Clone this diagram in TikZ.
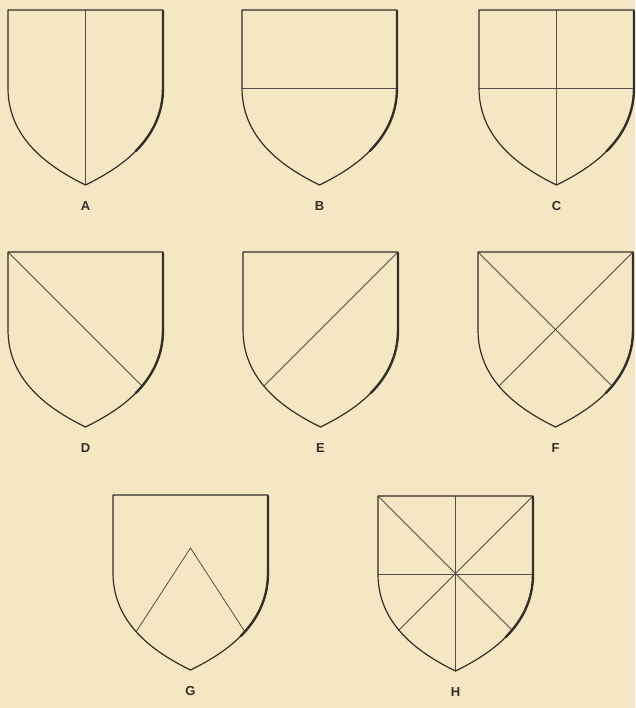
\documentclass[tikz,border=0pt]{standalone}
\usepackage{fontspec}
\setmainfont{Liberation Sans}
\usetikzlibrary{positioning}
\definecolor{paper}{RGB}{245,231,195}
\definecolor{ink}{RGB}{52,47,40}
\tikzset{
  shield edge/.style={insert path={(0,0) -- (155,0) -- (155,78) .. controls (155,132) and (108,160) .. (77.5,175) .. controls (47,160) and (0,132) .. (0,78) -- cycle}},
  outline/.style={draw=ink, line width=1.2pt, line join=round},
  shadow/.style={draw=ink, line width=2.4pt, line cap=round},
  division/.style={draw=ink!85, line width=0.8pt},
  letter/.style={font=\bfseries\fontsize{13}{13}\selectfont, text=ink}
}
% position, name, letter, division lines
\newcommand{\escutcheon}[4]{%
  \begin{scope}[shift={#1}]
    \begin{scope}
      \clip[shield edge];
      #4
    \end{scope}
    \path[outline, shield edge];
    \draw[shadow] (155,1) -- (155,78) .. controls (155,105) and (143.25,125.5) .. (127.7,141.1);
    \node[letter] (#2) at (77.5,196) {#3};
  \end{scope}}

\begin{document}
\begin{tikzpicture}[x=1pt, y=-1pt]
\fill[paper] (0,0) rectangle (635,708);
\useasboundingbox (0,0) rectangle (635,708);

% top row
\escutcheon{(8,10)}{A}{A}{\draw[division] (77.5,0) -- (77.5,180);}
\escutcheon{(242,10)}{B}{B}{\draw[division] (0,78) -- (155,78);}
\escutcheon{(479,10)}{C}{C}{\draw[division] (77.5,0) -- (77.5,180);
  \draw[division] (0,78) -- (155,78);}

% middle row
\escutcheon{(8,252)}{D}{D}{\draw[division] (0,0) -- (200,200);}
\escutcheon{(243,252)}{E}{E}{\draw[division] (155,0) -- (-45,200);}
\escutcheon{(478,252)}{F}{F}{\draw[division] (0,0) -- (200,200);
  \draw[division] (155,0) -- (-45,200);}

% bottom row
\escutcheon{(113,495)}{G}{G}{\draw[division] (-31,220) -- (77.5,53) -- (186,220);}
\escutcheon{(378,496)}{H}{H}{\draw[division] (77.5,0) -- (77.5,180);
  \draw[division] (0,78) -- (155,78);
  \draw[division] (0,0) -- (200,200);
  \draw[division] (155,0) -- (-45,200);}
\end{tikzpicture}
\end{document}
